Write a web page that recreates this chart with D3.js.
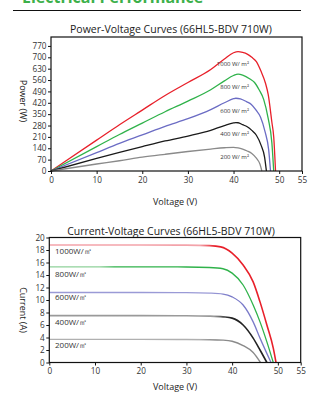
<!DOCTYPE html>
<html><head><meta charset="utf-8">
<script src="https://cdn.jsdelivr.net/npm/d3@7"></script>
<style>
html,body{margin:0;padding:0;background:#fff;}
svg{display:block;font-family:"Open Sans",sans-serif;}
</style></head>
<body><svg id="c" width="329" height="400"></svg>
<script>
// ---------- DATA ----------
const irradianceLabelsPV = ["1000 W/ m²","800 W/ m²","600 W/ m²","400 W/ m²","200 W/ m²"];
const irradianceLabelsIV = ["1000W/㎡","800W/㎡","600W/㎡","400W/㎡","200W/㎡"];
const seriesColors = ["#e8202a","#2fb24a","#6b6cc4","#1a1a1a","#8a8a8a"];
const ivColors = ["#e8202a","#2fb24a","#7a7ac8","#222","#8a8a8a"];
const ivLightColors = ["#f3a3aa","#8fd19a","#9a9ad6","#9a9a9a","#b0b0b0"];

const pvTicksY = [0,70,140,210,280,350,420,490,560,630,700,770];
const ivTicksY = [0,2,4,6,8,10,12,14,16,18,20];
const ticksX = [0,10,20,30,40,50,55];

// Power-Voltage curves (V, W)
const pvV1000 = [0,10,15,20,25,30,35,38,40,41,42,43,44,45,46,47,47.6,48.4,48.8,49.2];
const pvP1000 = [0,190,285,375,465,545,625,690,728,735,730,720,700,673,615,540,470,300,211,0];
const pvV800  = [0,10,15,20,25,30,35,38,40,41,42,43.6,44.6,45.6,46.6,47.6,48.4,48.8];
const pvP800  = [0,150,225,295,365,430,500,555,588,596,590,566,545,500,441,322,173,0];
const pvV600  = [0,10,15,20,25,30,35,38,40,40.5,41.5,42.9,43.9,44.9,45.9,46.9,47.7,48.1];
const pvP600  = [0,113,170,222,275,322,378,420,445,448,444,426,410,376,332,242,130,0];
const pvV400  = [0,10,15,20,25,30,35,38,40,40.5,41,42,43,44,45,46,46.8,47.2];
const pvP400  = [0,77,114,150,185,215,250,280,296,298,297,285,272,250,220,161,86,0];
const pvV200  = [0,10,15,20,25,30,35,38,40,41,42,43,44,45,45.8,46.2];
const pvP200  = [0,43,63,85,103,120,135,143,146,142,134,123,108,79,42,0];

// Current-Voltage curves (V, A)
const ivV1000 = [0,10,20,30,35,37.5,40,42.4,44.6,46.1,47.6,49.0,49.6];
const ivI1000 = [18.8,18.8,18.8,18.78,18.7,18.5,17.5,15.6,12.9,9.7,6.0,2.3,0];
const ivV800  = [0,10,20,30,35,38,40,42.4,44.6,46.1,47.6,49.0];
const ivI800  = [15.3,15.3,15.3,15.28,15.2,15.0,14.3,12.4,9.2,6.5,3.3,0];
const ivV600  = [0,10,20,30,35,38,40,42.4,44.6,46.1,48.5];
const ivI600  = [11.2,11.2,11.2,11.18,11.1,10.95,10.5,9.2,6.5,3.9,0];
const ivV400  = [0,10,20,30,35,38,40,42.4,44.6,46.1,47.6];
const ivI400  = [7.5,7.5,7.5,7.48,7.42,7.3,7.1,6.0,3.9,2.0,0];
const ivV200  = [0,10,20,30,35,38,40,42.4,44.6,46.2];
const ivI200  = [3.7,3.7,3.7,3.68,3.65,3.58,3.4,2.7,1.6,0];

const pvSeries = [[pvV1000,pvP1000],[pvV800,pvP800],[pvV600,pvP600],[pvV400,pvP400],[pvV200,pvP200]];
const ivSeries = [[ivV1000,ivI1000],[ivV800,ivI800],[ivV600,ivI600],[ivV400,ivI400],[ivV200,ivI200]];

// ---------- DRAW ----------
const svg = d3.select("#c");
const defs = svg.append("defs");

// header
svg.append("text").attr("x",22).attr("y",3).attr("font-size",16).attr("font-weight","bold")
  .attr("fill","#3cb04a").text("Electrical Performance");
svg.append("line").attr("x1",13).attr("x2",301).attr("y1",10.5).attr("y2",10.5)
  .attr("stroke","#111").attr("stroke-width",1);

function fitText(sel, target){
  const n = sel.node();
  const w = n.getComputedTextLength();
  const fs = parseFloat(sel.attr("font-size"));
  if (w > 0) sel.attr("font-size", fs*target/w);
}

function chart(cfg){
  const g = svg.append("g");
  const x = d3.scaleLinear().domain([0,55]).range([cfg.x0,cfg.x1]);
  const y = d3.scaleLinear().domain([0,cfg.ymax]).range([cfg.y0,cfg.y1]);
  // title
  const t = g.append("text").attr("x",cfg.tx).attr("y",cfg.ty).attr("text-anchor","middle")
    .attr("font-size",12).attr("fill","#222").text(cfg.title);
  fitText(t, cfg.tw);
  // curves
  const line = d3.line().x(d=>x(d[0])).y(d=>y(d[1])).curve(d3.curveMonotoneX);
  cfg.series.forEach((s,i)=>{
    const pts = s[0].map((v,k)=>[v,s[1][k]]);
    let stroke = cfg.colors[i];
    if (cfg.light){
      const id = cfg.id+"g"+i;
      const lg = defs.append("linearGradient").attr("id",id).attr("gradientUnits","userSpaceOnUse")
        .attr("x1",cfg.x0).attr("x2",cfg.x1).attr("y1",0).attr("y2",0);
      const split = (x(cfg.lightEnd[i])-cfg.x0)/(cfg.x1-cfg.x0);
      lg.append("stop").attr("offset",0).attr("stop-color",cfg.light[i]);
      lg.append("stop").attr("offset",split).attr("stop-color",cfg.light[i]);
      lg.append("stop").attr("offset",Math.min(1,split+0.06)).attr("stop-color",cfg.colors[i]);
      lg.append("stop").attr("offset",1).attr("stop-color",cfg.colors[i]);
      stroke = `url(#${id})`;
    }
    g.append("path").attr("d",line(pts)).attr("fill","none")
      .attr("stroke",stroke).attr("stroke-width",cfg.widths ? cfg.widths[i] : 1.3);
  });
  // box
  g.append("rect").attr("x",cfg.x0).attr("y",cfg.y1).attr("width",cfg.x1-cfg.x0)
    .attr("height",cfg.y0-cfg.y1).attr("fill","none").attr("stroke","#111").attr("stroke-width",1.2);
  // axes
  const ax = g.append("g").attr("transform",`translate(0,${cfg.y0})`)
    .call(d3.axisBottom(x).tickValues(ticksX).tickSize(3).tickPadding(3));
  const ay = g.append("g").attr("transform",`translate(${cfg.x0},0)`)
    .call(d3.axisLeft(y).tickValues(cfg.yticks).tickSize(3).tickPadding(1.5));
  [ax,ay].forEach(a=>{
    a.select(".domain").remove();
    a.selectAll("line").attr("stroke","#111");
    a.selectAll("text").attr("font-size",8.2).attr("fill","#333").attr("font-family","Open Sans, sans-serif");
  });
  // axis labels
  g.append("text").attr("x",cfg.xlx).attr("y",cfg.xly).attr("text-anchor","middle")
    .attr("font-size",9).attr("fill","#222").text("Voltage (V)");
  g.append("text").attr("transform",`translate(${cfg.ylx},${cfg.yly}) rotate(90)`)
    .attr("text-anchor","middle").attr("font-size",9).attr("fill","#222").text(cfg.ylabel);
  // irradiance labels
  cfg.labels.forEach((t,i)=>{
    g.append("text").attr("x",cfg.labX).attr("y",cfg.labY[i]).attr("font-size",cfg.labSize)
      .attr("fill","#333").attr("text-anchor",cfg.labAnchor).text(t);
  });
}

chart({
  id:"pv",
  title:"Power-Voltage Curves (66HL5-BDV 710W)", tx:171, ty:33, tw:202,
  x0:51, x1:302, y0:171, y1:37, ymax:825, yticks:pvTicksY,
  series:pvSeries, colors:seriesColors,
  xlx:175, xly:205, ylx:20, yly:101, ylabel:"Power (W)",
  labels:irradianceLabelsPV, labX:249, labAnchor:"end", labSize:6,
  labY:[66,89,113,136,159]
});

chart({
  id:"iv",
  title:"Current-Voltage Curves (66HL5-BDV 710W)", tx:171, ty:235, tw:208,
  x0:49.3, x1:300.7, y0:362.5, y1:237.5, ymax:20, yticks:ivTicksY,
  series:ivSeries, colors:ivColors, light:ivLightColors,
  lightEnd:[33,11,36,36,33], widths:[1.6,1.3,1.3,1.6,1.4],
  xlx:175, xly:390, ylx:20, yly:310, ylabel:"Current (A)",
  labels:irradianceLabelsIV, labX:55, labAnchor:"start", labSize:8,
  labY:[254,277,300,325,348]
});
</script>
</body></html>
